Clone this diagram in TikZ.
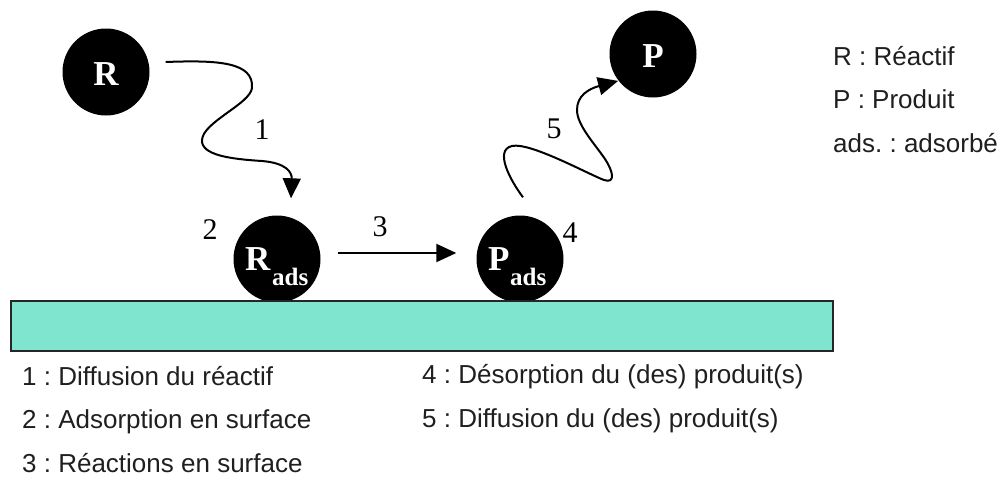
\documentclass[tikz,border=0pt]{standalone}
\usepackage{fontspec}
\setmainfont{Liberation Serif}
\newfontfamily\arialf{Liberation Sans}
\usetikzlibrary{arrows.meta,calc}
\definecolor{surf}{RGB}{127,229,206}
\frenchspacing
\begin{document}
\begin{tikzpicture}[x=1pt,y=-1pt,
  ball/.style={circle,fill=black,draw=none,minimum size=87pt,inner sep=0pt},
  big/.style={text=white,inner sep=0pt,font=\fontsize{35}{35}\selectfont\bfseries},
  sub/.style={text=white,inner sep=0pt,font=\fontsize{25}{25}\selectfont\bfseries},
  num/.style={inner sep=0pt,font=\fontsize{30}{30}\selectfont},
  leg/.style={inner sep=0pt,anchor=base west,text=black!88,font=\arialf\fontsize{26}{26}\selectfont},
  arr/.style={line width=2pt,-{Triangle[length=20pt,width=18pt]}}]
\path[use as bounding box] (0,0) rectangle (1006,479);
% particles
\node[ball] (R) at (106,72) {};
\node[ball] (P) at (653,54) {};
\node[ball] (Rads) at (277,259) {};
\node[ball] (Pads) at (520,259) {};
% surface
\draw[line width=1.8pt,draw=black!85,fill=surf] (11,301) rectangle (833,351);
% labels in particles
\node[big,anchor=base] (Rl) at (106,85) {R};
\node[big,anchor=base] (Pl) at (653,67) {P};
\node[big,anchor=base west] (Radsl) at (245,270) {R};
\node[sub,anchor=base west] (Radss) at (272,285) {ads};
\node[big,anchor=base west] (Padsl) at (488,270) {P};
\node[sub,anchor=base west] (Padss) at (510,285) {ads};
% step numbers
\node[num] (n1) at (262,130) {1};
\node[num] (n2) at (210,230) {2};
\node[num] (n3) at (380,227) {3};
\node[num] (n4) at (570,233) {4};
\node[num] (n5) at (554,129) {5};
% arrows
\coordinate (a1s) at ($(R.east)+(16,-10)$);
\coordinate (a1e) at ($(Rads.north)+(14,-17)$);
\draw[arr] (a1s) .. controls (218,60) and (254,62) .. (252,88)
  .. controls (250,104) and (203,122) .. (202,140)
  .. controls (201,155) and (230,159) .. (262,161)
  .. controls (286,163) and (292,172) .. (a1e);
\draw[arr] ($(Rads.east)+(17,-6)$) -- ($(Pads.west)+(-20,-6)$);
\coordinate (a5s) at ($(Pads.north)+(3,-18)$);
\coordinate (a5e) at ($(P.south west)+(-4,-4)$);
\draw[arr] (a5s) .. controls (510,180) and (494,150) .. (512,146)
  .. controls (530,142) and (588,174) .. (604,180)
  .. controls (616,184) and (613,171) .. (605,159)
  .. controls (594,143) and (577,125) .. (577,110)
  .. controls (577,96) and (588,89) .. (a5e);
% legends
\node[leg] (l1) at (833,65) {R : Réactif};
\node[leg] (l2) at (833,108) {P : Produit};
\node[leg] (l3) at (833,152) {ads. : adsorbé};
\node[leg] (s1) at (22,385) {1 : Diffusion du réactif};
\node[leg] (s2) at (22,428) {2 : Adsorption en surface};
\node[leg] (s3) at (22,472) {3 : Réactions en surface};
\node[leg] (s4) at (422,383) {4 : Désorption du (des) produit(s)};
\node[leg] (s5) at (422,427) {5 : Diffusion du (des) produit(s)};
\end{tikzpicture}
\end{document}
